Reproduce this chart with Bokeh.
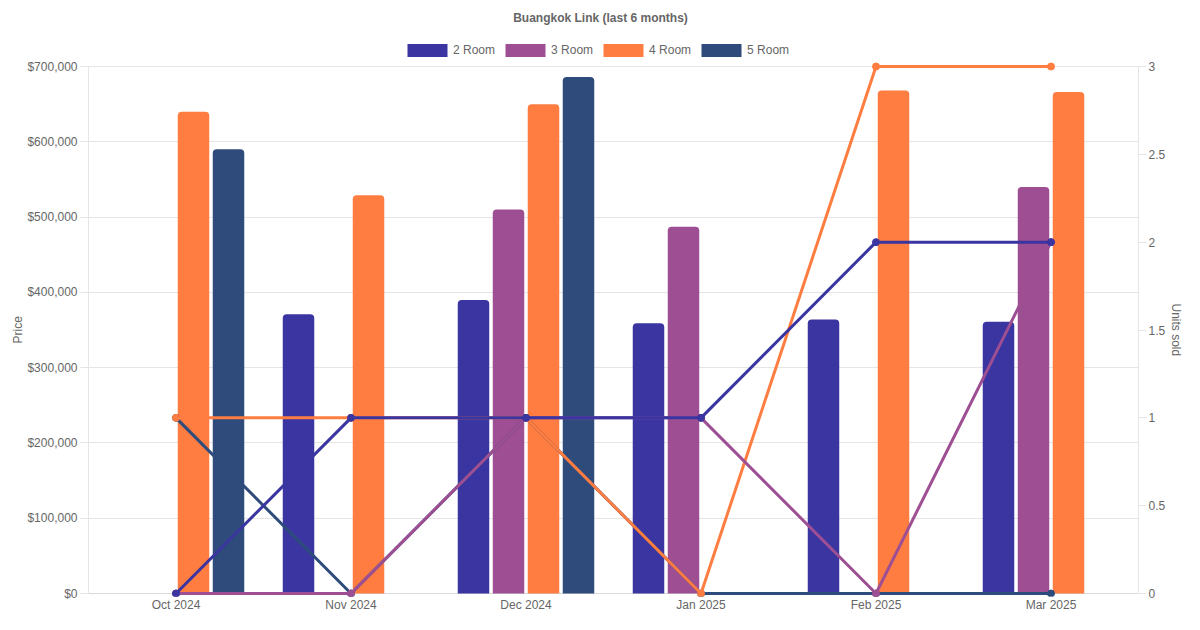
from bokeh.plotting import figure
from bokeh.models import (FactorRange, Range1d, LinearAxis, FixedTicker, NumeralTickFormatter,
                          CustomJSTickFormatter, Legend, LegendItem, ColumnDataSource, Label,
                          Span, Title)
from bokeh.transform import dodge
from bokeh.embed import file_html
from bokeh.resources import INLINE

months = ["Oct 2024", "Nov 2024", "Dec 2024", "Jan 2025", "Feb 2025", "Mar 2025"]
room_types = ["2 Room", "3 Room", "4 Room", "5 Room"]

price_2room = [None, 371000, 390000, 359000, 364000, 361000]
price_3room = [None, None, 510000, 487000, None, 540000]
price_4room = [640000, 529000, 650000, None, 668000, 666000]
price_5room = [590000, None, 686000, None, None, None]

units_2room = [0, 1, 1, 1, 2, 2]
units_3room = [0, 0, 1, 1, 0, 2]
units_4room = [1, 1, 1, 0, 3, 3]
units_5room = [1, 0, 1, 0, 0, 0]

price_ticks = [0, 100000, 200000, 300000, 400000, 500000, 600000, 700000]
unit_ticks = [0, 0.5, 1, 1.5, 2, 2.5, 3]
PRICE_MAX = 700000
UNITS_MAX = 3

colors = ["#3a35a0", "#9e4f93", "#ff7d41", "#2e4b7b"]
prices = [price_2room, price_3room, price_4room, price_5room]
units = [units_2room, units_3room, units_4room, units_5room]
offsets = [-0.3, -0.1, 0.1, 0.3]

FONT = "Liberation Sans"
TXT = "#666666"
GRID = "#e5e5e5"

# layout (pixels)
W, H = 1184, 614
BL, BR, BT, BB = 88, 46, 0, 18
FH = H - BT - BB            # frame height (frame starts at the top edge)
VALUE_TOP = 66              # y of the max value line
ZERO_UP = 3                 # zero line this many px above frame bottom
AXIS_H = FH - ZERO_UP - VALUE_TOP

def ext_range(vmax):
    per_px = vmax / AXIS_H
    return Range1d(-ZERO_UP * per_px, vmax + VALUE_TOP * per_px)

p = figure(width=W, height=H, x_range=FactorRange(factors=months),
           y_range=ext_range(PRICE_MAX), output_backend="svg", toolbar_location=None,
           title_location=None,
           min_border_left=BL, min_border_right=BR, min_border_bottom=BB, min_border_top=BT)
p.extra_y_ranges = {"units": ext_range(UNITS_MAX)}
p.outline_line_color = None
p.background_fill_color = "white"

title = Label(x=512, y=FH - 17, x_units="screen", y_units="screen",
              text="Buangkok Link (last 6 months)", text_align="center", text_baseline="middle",
              text_font=FONT, text_font_size="12px", text_font_style="bold", text_color=TXT)
p.add_layout(title)

p.add_layout(Span(location=0, dimension="width", line_color="#d9d9d9", line_width=1,
                  level="underlay"))

# bars
bar_renderers = []
for i in range(4):
    xs = [m for m, v in zip(months, prices[i]) if v is not None]
    ys = [v for v in prices[i] if v is not None]
    src = ColumnDataSource(dict(month=xs, price=ys))
    r = p.vbar(x=dodge("month", offsets[i], range=p.x_range), top="price", width=0.18,
               source=src, fill_color=colors[i], line_color=None,
               border_radius=(4, 4, 0, 0))
    bar_renderers.append(r)

# lines (drawn last series first so that 2 Room is on top)
for i in [3, 2, 1, 0]:
    p.line(months, units[i], y_range_name="units", line_color=colors[i], line_width=3)
    p.scatter(months, units[i], y_range_name="units", size=7, fill_color=colors[i],
              line_color=colors[i])

# axes
def style_axis(ax):
    ax.major_label_text_font = FONT
    ax.major_label_text_font_size = "12px"
    ax.major_label_text_color = TXT
    ax.minor_tick_line_color = None

ya = p.yaxis[0]
ya.ticker = FixedTicker(ticks=price_ticks)
ya.formatter = NumeralTickFormatter(format="$0,0")
ya.bounds = (0, PRICE_MAX)
ya.axis_line_color = GRID
ya.major_tick_line_color = GRID
ya.major_tick_out = 8
ya.major_tick_in = 0
ya.major_label_standoff = 3
style_axis(ya)

ra = LinearAxis(y_range_name="units", ticker=FixedTicker(ticks=unit_ticks),
                formatter=CustomJSTickFormatter(code="return String(tick);"),
                bounds=(0, UNITS_MAX))
ra.axis_line_color = GRID
ra.major_tick_line_color = GRID
ra.major_tick_out = 8
ra.major_tick_in = 0
ra.major_label_standoff = 2
style_axis(ra)
p.add_layout(ra, "right")

xa = p.xaxis[0]
xa.axis_line_color = None
xa.major_tick_line_color = None
xa.major_tick_out = 0
xa.major_tick_in = 0
xa.major_label_standoff = 1
style_axis(xa)

# axis titles, centred on the value area
mid = VALUE_TOP + AXIS_H / 2.0
price_title = Title(text="Price", align="left", offset=int(FH - (mid + 13.5)), standoff=0,
                    text_font=FONT, text_font_size="12px", text_font_style="normal",
                    text_color=TXT)
p.add_layout(price_title, "left")
units_title = Title(text="Units sold", align="left", offset=int(mid - 26.5), standoff=0,
                    text_font=FONT, text_font_size="12px", text_font_style="normal",
                    text_color=TXT)
p.add_layout(units_title, "right")

p.xgrid.grid_line_color = None
p.ygrid.grid_line_color = GRID
p.ygrid.ticker = FixedTicker(ticks=price_ticks)

legend = Legend(items=[LegendItem(label=room_types[i], renderers=[bar_renderers[i]]) for i in range(4)],
                orientation="horizontal", location=(407 - 5 - BL, FH - 58))
legend.glyph_width = 50
legend.glyph_height = 16
legend.label_height = 16
legend.label_standoff = 1
legend.spacing = 5
legend.padding = 0
legend.margin = 0
legend.border_line_color = None
legend.background_fill_alpha = 0
legend.label_text_font = FONT
legend.label_text_font_size = "12px"
legend.label_text_color = TXT
p.add_layout(legend)

open("out.html", "w").write(file_html(p, INLINE))
